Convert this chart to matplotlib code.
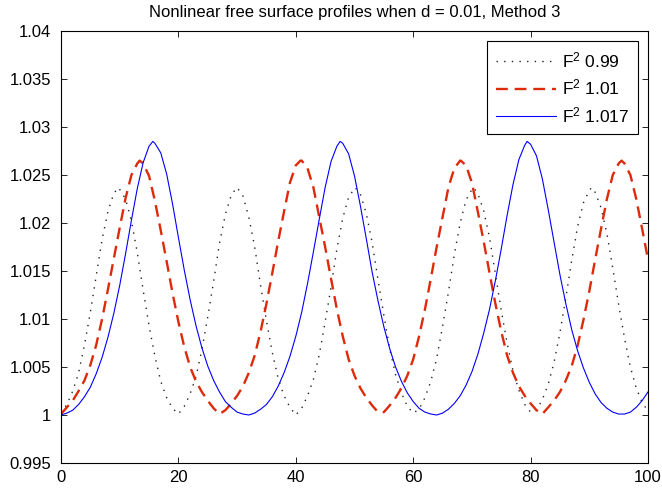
import numpy as np
import matplotlib
matplotlib.use('Agg')
import matplotlib.pyplot as plt
from matplotlib.ticker import FuncFormatter

plt.rcParams['font.family'] = ['Liberation Sans', 'DejaVu Sans']
plt.rcParams['mathtext.default'] = 'regular'

# free surface profiles, x = 0..100 step 1
x = list(range(0, 101))

eta_099 = [
    1.0002, 1.0011, 1.0025, 1.0044, 1.0073, 1.0107, 1.0145, 1.0183, 1.0212, 1.0231,
    1.0235, 1.0225, 1.0202, 1.0169, 1.0130, 1.0093, 1.0061, 1.0035, 1.0018, 1.0007,
    1.0001, 1.0009, 1.0022, 1.0040, 1.0068, 1.0102, 1.0139, 1.0179, 1.0209, 1.0229,
    1.0237, 1.0228, 1.0206, 1.0175, 1.0135, 1.0098, 1.0065, 1.0038, 1.0020, 1.0008,
    1.0000, 1.0007, 1.0020, 1.0037, 1.0063, 1.0097, 1.0133, 1.0173, 1.0205, 1.0227,
    1.0236, 1.0230, 1.0210, 1.0180, 1.0141, 1.0104, 1.0069, 1.0042, 1.0023, 1.0009,
    1.0002, 1.0006, 1.0018, 1.0035, 1.0059, 1.0092, 1.0128, 1.0167, 1.0200, 1.0224,
    1.0235, 1.0231, 1.0213, 1.0185, 1.0147, 1.0109, 1.0075, 1.0046, 1.0026, 1.0011,
    1.0003, 1.0005, 1.0016, 1.0032, 1.0055, 1.0086, 1.0122, 1.0161, 1.0196, 1.0221,
    1.0234, 1.0232, 1.0216, 1.0189, 1.0153, 1.0115, 1.0080, 1.0050, 1.0028, 1.0013,
    1.0004,
]

eta_101 = [
    1.0001, 1.0008, 1.0015, 1.0025, 1.0036, 1.0052, 1.0073, 1.0100, 1.0131, 1.0163,
    1.0195, 1.0226, 1.0250, 1.0262, 1.0262, 1.0249, 1.0223, 1.0192, 1.0160, 1.0127,
    1.0097, 1.0071, 1.0050, 1.0035, 1.0024, 1.0015, 1.0007, 1.0001, 1.0005, 1.0012,
    1.0020, 1.0030, 1.0044, 1.0062, 1.0087, 1.0116, 1.0148, 1.0181, 1.0212, 1.0242,
    1.0260, 1.0265, 1.0257, 1.0237, 1.0206, 1.0175, 1.0142, 1.0110, 1.0082, 1.0058,
    1.0041, 1.0028, 1.0018, 1.0010, 1.0003, 1.0003, 1.0010, 1.0018, 1.0028, 1.0041,
    1.0058, 1.0082, 1.0110, 1.0142, 1.0175, 1.0206, 1.0237, 1.0257, 1.0265, 1.0260,
    1.0242, 1.0212, 1.0181, 1.0148, 1.0116, 1.0087, 1.0062, 1.0044, 1.0030, 1.0020,
    1.0012, 1.0005, 1.0001, 1.0008, 1.0015, 1.0024, 1.0036, 1.0051, 1.0072, 1.0099,
    1.0129, 1.0162, 1.0194, 1.0225, 1.0250, 1.0262, 1.0262, 1.0250, 1.0225, 1.0194,
    1.0162,
]

eta_1017 = [
    1.0000, 1.0002, 1.0005, 1.0011, 1.0019, 1.0029, 1.0043, 1.0060, 1.0081, 1.0106,
    1.0135, 1.0168, 1.0203, 1.0236, 1.0263, 1.0280, 1.0283, 1.0273, 1.0251, 1.0220,
    1.0185, 1.0151, 1.0120, 1.0093, 1.0070, 1.0051, 1.0036, 1.0024, 1.0014, 1.0008,
    1.0003, 1.0001, 1.0000, 1.0002, 1.0006, 1.0011, 1.0019, 1.0030, 1.0044, 1.0061,
    1.0082, 1.0107, 1.0137, 1.0170, 1.0204, 1.0237, 1.0264, 1.0280, 1.0283, 1.0272,
    1.0249, 1.0218, 1.0184, 1.0149, 1.0119, 1.0092, 1.0069, 1.0050, 1.0035, 1.0023,
    1.0014, 1.0007, 1.0003, 1.0001, 1.0000, 1.0002, 1.0006, 1.0012, 1.0020, 1.0031,
    1.0045, 1.0063, 1.0085, 1.0110, 1.0140, 1.0173, 1.0208, 1.0240, 1.0266, 1.0281,
    1.0282, 1.0270, 1.0246, 1.0214, 1.0180, 1.0146, 1.0116, 1.0089, 1.0067, 1.0049,
    1.0034, 1.0022, 1.0013, 1.0007, 1.0003, 1.0001, 1.0001, 1.0003, 1.0008, 1.0015,
    1.0024,
]

# crest positions and heights
crest_x_099 = [9.8, 29.95, 50.1, 70.25, 90.4]
crest_y_099 = [1.0237, 1.0237, 1.0237, 1.0237, 1.0237]
crest_x_101 = [13.4, 40.8, 68.1, 95.5]
crest_y_101 = [1.0265, 1.0265, 1.0265, 1.0265]
crest_x_1017 = [15.65, 47.55, 79.4]
crest_y_1017 = [1.0285, 1.0285, 1.0285]

labels = ['F$^2$ 0.99', 'F$^2$ 1.01', 'F$^2$ 1.017']
xticks = [0, 20, 40, 60, 80, 100]
yticks = [0.995, 1.0, 1.005, 1.01, 1.015, 1.02, 1.025, 1.03, 1.035, 1.04]


def with_crests(xs, ys, cx, cy):
    # merge the crest samples into the regular samples
    allx = np.concatenate([xs, cx])
    ally = np.concatenate([ys, cy])
    order = np.argsort(allx, kind='stable')
    return allx[order], ally[order]


fig = plt.figure(figsize=(6.62, 4.91), dpi=100)
ax = fig.add_axes([61/662, 28/491, 587/662, 432/491])

xa, ya = with_crests(x, eta_099, crest_x_099, crest_y_099)
ax.plot(xa, ya, color='#222222', lw=1.0, linestyle=(0, (1, 4.5)), label=labels[0])
xb, yb = with_crests(x, eta_101, crest_x_101, crest_y_101)
ax.plot(xb, yb, color='#dd2a0a', lw=1.7, linestyle=(0, (5.0, 2.9)), label=labels[1])
xc, yc = with_crests(x, eta_1017, crest_x_1017, crest_y_1017)
ax.plot(xc, yc, color='#0000ff', lw=0.8, linestyle='-', label=labels[2])

ax.set_xlim(0, 100)
ax.set_ylim(0.995, 1.04)
ax.set_xticks(xticks)
ax.set_yticks(yticks)
ax.yaxis.set_major_formatter(FuncFormatter(lambda v, p: '%g' % round(v, 3)))
ax.tick_params(direction='in', top=True, right=True, length=4, width=0.6, labelsize=12)
ax.tick_params(axis='x', pad=5)
ax.tick_params(axis='y', pad=7)
for s in ax.spines.values():
    s.set_linewidth(0.8)

ax.set_title('Nonlinear free surface profiles when d = 0.01, Method 3', fontsize=12, pad=10)

leg = ax.legend(loc='upper right', fancybox=False, framealpha=1, edgecolor='black',
                fontsize=12.5, handlelength=3.5, borderaxespad=0.6, labelspacing=0.45,
                handletextpad=0.3, borderpad=0.5)
leg.get_frame().set_linewidth(0.8)

fig.savefig('out.png', dpi=100)
